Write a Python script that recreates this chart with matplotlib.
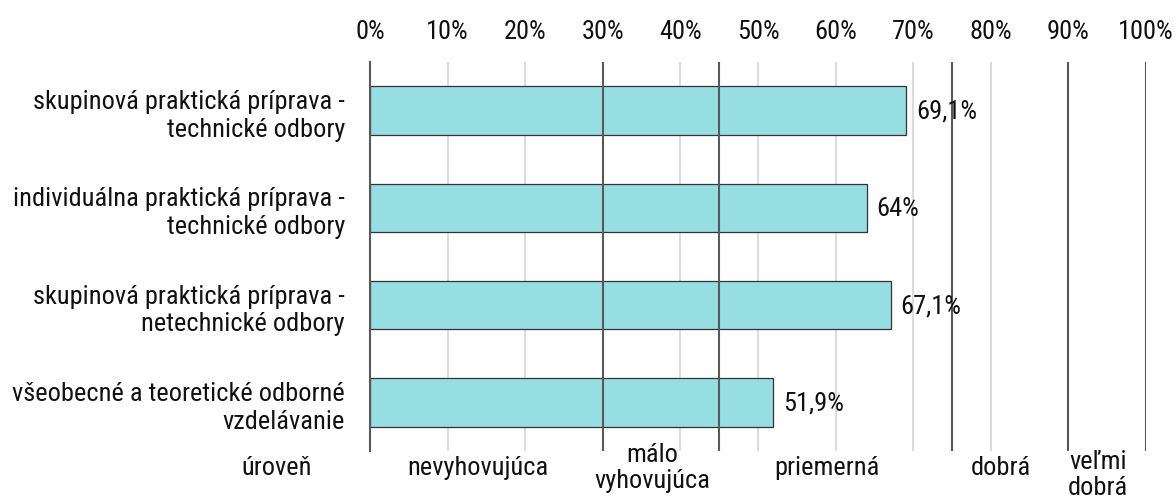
import matplotlib
matplotlib.use("Agg")
import matplotlib.pyplot as plt
import numpy as np

plt.rcParams['font.family'] = ['Roboto Condensed', 'DejaVu Sans']

# data
categories = ["skupinová praktická príprava -\ntechnické odbory",
              "individuálna praktická príprava -\ntechnické odbory",
              "skupinová praktická príprava -\nnetechnické odbory",
              "všeobecné a teoretické odborné\nvzdelávanie"]
values = [69.1, 64, 67.1, 51.9]
level_bounds = [0, 30, 45, 75, 90, 100]
level_names = ["nevyhovujúca", "málo\nvyhovujúca", "priemerná", "dobrá", "veľmi\ndobrá"]
xticks = np.arange(0, 101, 10)

FS = 19

fig = plt.figure(figsize=(11.76, 5.02), dpi=100)
ax = fig.add_axes([370 / 1176, 1 - 452 / 502, 776 / 1176, 389 / 502])

y = np.arange(len(categories))
ax.barh(y, values, height=0.5, color='#97dee3', edgecolor='#333333', linewidth=0.9, zorder=2)

# light grid behind bars
for t in xticks[1:]:
    ax.axvline(t, color='#d9d9d9', linewidth=1.3, zorder=1)
# level boundaries over bars
for b in level_bounds[1:]:
    ax.axvline(b, color='#595959', linewidth=1.5, zorder=3)

for i, v in enumerate(values):
    txt = ('%g' % v).replace('.', ',') + '%'
    ax.annotate(txt, xy=(v, i), xytext=(10, 0), textcoords='offset pixels',
                va='center', ha='left', fontsize=FS, color='#111111', zorder=4)

ax.set_xlim(0, 100)
ax.set_ylim(len(categories) - 0.5, -0.5)
ax.xaxis.tick_top()
ax.set_xticks(xticks)
ax.set_xticklabels(['%d%%' % t for t in xticks])
ax.set_yticks(y)
ax.set_yticklabels(categories)
for lbl in ax.get_yticklabels():
    lbl.set_linespacing(1.2)
ax.tick_params(axis='x', length=0, pad=14, labelsize=FS, colors='#111111')
ax.tick_params(axis='y', length=0, pad=18, labelsize=FS, colors='#111111')

for s in ['top', 'right', 'bottom']:
    ax.spines[s].set_visible(False)
ax.spines['left'].set_color('#595959')
ax.spines['left'].set_linewidth(1.5)

# level labels below the axis
for k, name in enumerate(level_names):
    mid = (level_bounds[k] + level_bounds[k + 1]) / 2
    dy = -23 if k == len(level_names) - 1 else -16
    ax.annotate(name, xy=(mid, 0), xycoords=('data', 'axes fraction'),
                xytext=(-9, dy), textcoords='offset pixels',
                ha='center', va='center', fontsize=FS, color='#111111',
                linespacing=1.15, annotation_clip=False)
ax.annotate("úroveň", xy=(0, 0), xycoords='axes fraction',
            xytext=(-93, -16), textcoords='offset pixels',
            ha='center', va='center', fontsize=FS, color='#111111')

fig.savefig("out.png", dpi=100)
